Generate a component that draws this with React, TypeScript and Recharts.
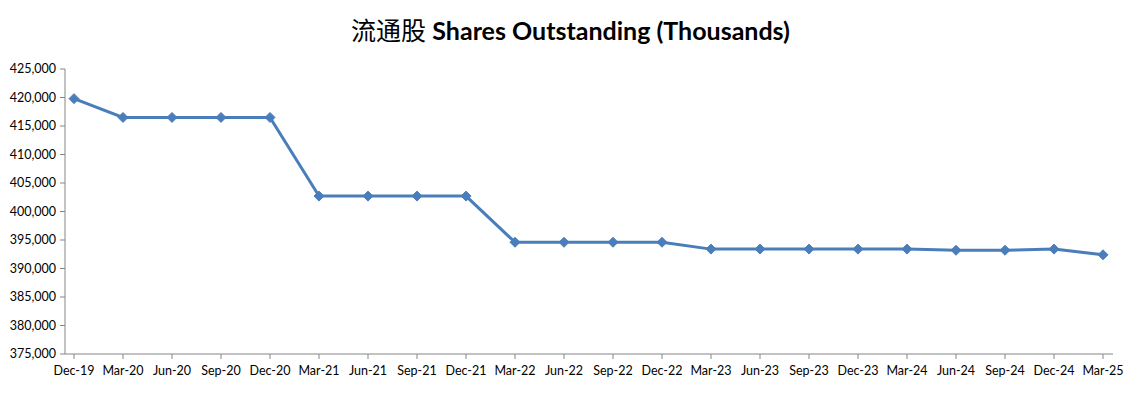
import { CartesianGrid, Line, LineChart, XAxis, YAxis } from 'recharts';

const QUARTERS = [
  'Dec-19', 'Mar-20', 'Jun-20', 'Sep-20', 'Dec-20', 'Mar-21', 'Jun-21', 'Sep-21',
  'Dec-21', 'Mar-22', 'Jun-22', 'Sep-22', 'Dec-22', 'Mar-23', 'Jun-23', 'Sep-23',
  'Dec-23', 'Mar-24', 'Jun-24', 'Sep-24', 'Dec-24', 'Mar-25',
];

const SHARES = [
  419800, 416500, 416500, 416500, 416500, 402700, 402700, 402700,
  402700, 394600, 394600, 394600, 394600, 393400, 393400, 393400,
  393400, 393400, 393200, 393200, 393400, 392400,
];

const Y_TICKS = [375000, 380000, 385000, 390000, 395000, 400000, 405000, 410000, 415000, 420000, 425000];

const TITLE_CN = '流通股';
const TITLE_EN = 'Shares Outstanding (Thousands)';

const LINE_COLOR = '#4A7EBB';
const AXIS_COLOR = '#868686';
const FONT = 'Lato, "Open Sans", sans-serif';

const fmt = (v: number) => v.toLocaleString('en-US');

function Diamond(props: any) {
  const { cx, cy } = props;
  if (cx == null || cy == null) return null;
  const r = 5;
  return (
    <path
      d={`M${cx},${cy - r} L${cx + r},${cy} L${cx},${cy + r} L${cx - r},${cy} Z`}
      fill={LINE_COLOR}
      stroke={LINE_COLOR}
    />
  );
}

export default function App() {
  const data = QUARTERS.map((q, i) => ({ q, v: SHARES[i] }));

  return (
    <div style={{ position: 'absolute', left: 0, top: 0, width: 1141, height: 393, background: '#fff' }}>
      <div
        style={{
          position: 'absolute',
          left: 0,
          top: 10,
          width: 1141,
          textAlign: 'center',
          fontSize: 25,
          lineHeight: '38px',
          color: '#000',
          whiteSpace: 'nowrap',
        }}
      >
        <span style={{ fontFamily: '"Noto Sans CJK SC", sans-serif', fontWeight: 400 }}>{TITLE_CN}</span>{' '}
        <span style={{ fontFamily: FONT, fontWeight: 700 }}>{TITLE_EN}</span>
      </div>
      <LineChart
        width={1141}
        height={393}
        data={data}
        margin={{ top: 69, right: 28, bottom: 9, left: 0 }}
        style={{ fontFamily: FONT }}
      >
        <CartesianGrid horizontal={false} vertical={false} />
        <XAxis
          dataKey="q"
          height={30}
          interval={0}
          padding={{ left: 9, right: 10 }}
          stroke={AXIS_COLOR}
          tickSize={5}
          tickMargin={7}
          tick={{ fill: '#000', fontSize: 12.5 }}
        />
        <YAxis
          width={65}
          domain={[375000, 425000]}
          ticks={Y_TICKS}
          interval={0}
          tickFormatter={fmt}
          stroke={AXIS_COLOR}
          tickSize={5}
          tickMargin={4}
          tick={{ fill: '#000', fontSize: 12.5 }}
        />
        <Line
          dataKey="v"
          stroke={LINE_COLOR}
          strokeWidth={3}
          dot={<Diamond />}
          activeDot={false}
          isAnimationActive={false}
        />
      </LineChart>
    </div>
  );
}
